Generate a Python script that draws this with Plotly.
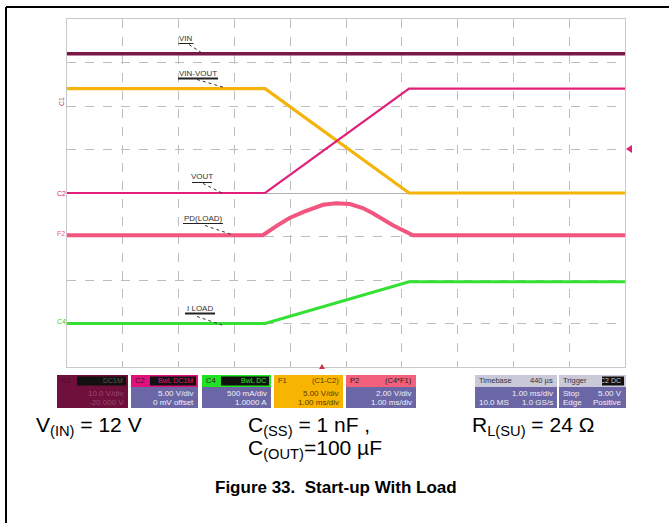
import plotly.graph_objects as go

# ---------------- data (read from the scope capture) ----------------
time_ms = [-5.0, -1.45, 1.13, 5.0]
vin_v = [12.0, 12.0, 12.0, 12.0]
vout_v = [0.0, 0.0, 12.0, 12.0]
vin_minus_vout_v = [12.0, 12.0, 0.0, 0.0]
iload_a = [0.0, 0.0, 0.48, 0.48]

pd_time_ms = [-5.0, -1.49, -1.25, -1.02, -0.75, -0.52, -0.41, -0.18, 0.07, 0.3, 0.48, 0.84, 1.15, 1.2, 5.0]
pd_w = [0.0, 0.0, 0.42, 0.78, 1.08, 1.29, 1.4, 1.47, 1.43, 1.25, 1.01, 0.46, 0.09, 0.0, 0.0]

# channel settings: (units per division, reference position in divisions)
ch_c1 = (10.0, 2.0)     # VIN
ch_f1 = (5.0, 0.0)      # VIN-VOUT
ch_c2 = (5.0, 0.0)      # VOUT
ch_p2 = (2.0, -0.97)    # PD(LOAD)
ch_c4 = (0.5, -3.0)     # I LOAD

# ---------------- geometry (page pixels) ----------------
W, H = 669, 523
PL, PR, PT, PB = 67, 625, 19, 367


def X(px):
    return (px - PL) / (PR - PL)


def Y(py):
    return (PB - py) / (PB - PT)


def to_div(vals, ch):
    s, ref = ch
    return [v / s + ref for v in vals]


fig = go.Figure()

traces = [
    (time_ms, to_div(vin_v, ch_c1), "#7a1848", 3.5, "VIN"),
    (time_ms, to_div(vin_minus_vout_v, ch_f1), "#f4b40c", 3.2, "VIN-VOUT"),
    (time_ms, to_div(vout_v, ch_c2), "#e0207a", 2.2, "VOUT"),
    (pd_time_ms, to_div(pd_w, ch_p2), "#f2557f", 4, "PD(LOAD)"),
    (time_ms, to_div(iload_a, ch_c4), "#33e033", 3, "I LOAD"),
]
for xs, ys, col, w, name in traces:
    fig.add_trace(go.Scatter(x=xs, y=ys, mode="lines", name=name,
                             line=dict(color=col, width=w), hoverinfo="skip"))

shapes = []
ann = []

# outer frame (only top/left edges visible)
shapes.append(dict(type="line", xref="paper", yref="paper", x0=X(6), x1=X(700), y0=Y(7), y1=Y(7),
                   line=dict(color="black", width=2)))
shapes.append(dict(type="line", xref="paper", yref="paper", x0=X(6), x1=X(6), y0=Y(7), y1=Y(540),
                   line=dict(color="black", width=2)))

# trace labels with leaders
labels = [
    ("VIN", 186, 38, (189, 44), (202, 53), 1),
    ("VIN-VOUT", 198, 73, (197, 79), (226, 88), 2),
    ("VOUT", 202, 177, (203, 183), (222, 193), 1),
    ("PD(LOAD)", 203, 218, (205, 225), (233, 235), 1),
    ("I LOAD", 200, 308, (197, 316), (222, 325), 2),
]
for t, cx, cy, p0, p1, uw in labels:
    ann.append(dict(x=X(cx), y=Y(cy), xref="paper", yref="paper", text=t, showarrow=False,
                    font=dict(size=8, color="#333333", family="Liberation Sans"),
                    xanchor="center", yanchor="middle"))
    half = len(t) * 2.5
    shapes.append(dict(type="line", xref="paper", yref="paper", x0=X(cx - half), x1=X(cx + half),
                       y0=Y(cy + 5.5), y1=Y(cy + 5.5), line=dict(color="#222222", width=uw)))
    shapes.append(dict(type="line", xref="paper", yref="paper", x0=X(p0[0]), x1=X(p1[0]),
                       y0=Y(p0[1] + 0.5), y1=Y(p1[1]), line=dict(color="#333333", width=1, dash="dot")))

# channel markers on the left
for t, py, col, ang in [("C1", 102, "#a05070", -90), ("C2", 193, "#e0207a", 0),
                        ("F2", 233, "#f2557f", 0), ("C4", 321, "#33cc33", 0)]:
    ann.append(dict(x=X(61), y=Y(py), xref="paper", yref="paper", text=t, showarrow=False,
                    font=dict(size=7, color=col, family="Liberation Sans"),
                    textangle=ang, xanchor="center", yanchor="middle"))

# right-side trigger level marker and bottom trigger position marker
shapes.append(dict(type="path", xref="paper", yref="paper",
                   path=f"M {X(626)} {Y(149)} L {X(632)} {Y(145)} L {X(632)} {Y(153)} Z",
                   fillcolor="#e0207a", line=dict(width=0)))
shapes.append(dict(type="path", xref="paper", yref="paper",
                   path=f"M {X(319)} {Y(369)} L {X(325)} {Y(369)} L {X(322)} {Y(364)} Z",
                   fillcolor="#d03050", line=dict(width=0)))

# info boxes
BT, BH, BB = 375, 387, 408
PURPLE = "#6b67a6"


def rect(x0, x1, y0, y1, col):
    shapes.append(dict(type="rect", xref="paper", yref="paper", x0=X(x0), x1=X(x1), y0=Y(y1), y1=Y(y0),
                       fillcolor=col, line=dict(width=0), layer="above"))


def txt(x, y, s, col, anchor="left", size=8):
    ann.append(dict(x=X(x), y=Y(y), xref="paper", yref="paper", text=s, showarrow=False,
                    font=dict(size=size, color=col, family="Liberation Sans"),
                    xanchor=anchor, yanchor="middle"))


boxes = [
    (57, 128, "#6e0f3c", "#6e0f3c", "C1", "", "DC1M", "10.0 V/div", "-20.000 V", "#9a4a70"),
    (131, 198, "#e0127a", PURPLE, "C2", "", "BwL DC1M", "5.00 V/div", "0 mV offset", "#f0f0f8"),
    (202, 271, "#22e022", PURPLE, "C4", "", "BwL DC", "500 mA/div", "1.0000 A", "#f0f0f8"),
    (274, 343, "#f7b400", "#f7b400", "F1", "(C1-C2)", "", "5.00 V/div", "1.00 ms/div", "#5a3a00"),
    (346, 416, "#f2607c", PURPLE, "P2", "(C4*F1)", "", "2.00 V/div", "1.00 ms/div", "#f0f0f8"),
]
for x0, x1, hc, bc, hl, hr, tag, r1, r2, tc in boxes:
    rect(x0, x1, BT, BB, bc)
    rect(x0, x1, BT, BH, hc)
    hcol = "#5a3a00" if hc == "#f7b400" else ("#222222" if hc != "#6e0f3c" else "#4a0a28")
    txt(x0 + 2, (BT + BH) / 2, hl, hcol, size=7.5)
    if hr:
        txt(x1 - 2, (BT + BH) / 2, hr, hcol, anchor="right", size=7.5)
    if tag:
        tag_x0 = x0 + (20 if x0 == 57 else 19)
        rect(tag_x0, x1 - 2, BT + 1.5, BH - 1.5, "#111111")
        txt(x1 - 3, (BT + BH) / 2, tag, hc if hc != "#6e0f3c" else "#555555", anchor="right", size=7)
    txt(x1 - 2, 393, r1, tc, anchor="right")
    txt(x1 - 2, 402.5, r2, tc, anchor="right")

# Timebase box
rect(475, 557, BT, BB, PURPLE)
rect(475, 557, BT, BH, "#c9c9d8")
txt(477, (BT + BH) / 2, "Timebase", "#333344", size=7.5)
txt(555, (BT + BH) / 2, "440 µs", "#333344", anchor="right", size=7.5)
txt(555, 393, "1.00 ms/div", "#f0f0f8", anchor="right")
txt(477, 402.5, "10.0 MS", "#f0f0f8")
txt(555, 402.5, "1.0 GS/s", "#f0f0f8", anchor="right")

# Trigger box
rect(559, 626, BT, BB, PURPLE)
rect(559, 626, BT, BH, "#c9c9d8")
txt(561, (BT + BH) / 2, "Trigger", "#333344", size=7.5)
rect(602, 624, BT + 1.5, BH - 1.5, "#111111")
txt(623, (BT + BH) / 2, "C2 DC", "#c9c9d8", anchor="right", size=7)
txt(561, 393, "Stop", "#f0f0f8")
txt(624, 393, "5.00 V", "#f0f0f8", anchor="right")
txt(561, 402.5, "Edge", "#f0f0f8")
txt(624, 402.5, "Positive", "#f0f0f8", anchor="right")

# conditions text
CF = dict(size=21, color="black", family="Liberation Sans")
for s, x, y in [("V<sub>(IN)</sub> = 12 V", 34, 426),
                ("C<sub>(SS)</sub> = 1 nF ,", 246, 426),
                ("C<sub>(OUT)</sub>=100 µF", 246, 449),
                ("R<sub>L(SU)</sub> = 24 Ω", 470, 426)]:
    ann.append(dict(x=X(x), y=Y(y), xref="paper", yref="paper", text=s, showarrow=False,
                    font=CF, xanchor="left", yanchor="middle"))

ann.append(dict(x=X(336), y=Y(487), xref="paper", yref="paper",
                text="<b>Figure 33.&nbsp; Start-up With Load</b>", showarrow=False,
                font=dict(size=17, color="black", family="Liberation Sans"),
                xanchor="center", yanchor="middle"))

fig.update_layout(
    width=W, height=H, autosize=False,
    margin=dict(l=PL, r=W - PR, t=PT, b=H - PB, pad=0),
    paper_bgcolor="white", plot_bgcolor="white",
    showlegend=False,
    shapes=shapes, annotations=ann,
    xaxis=dict(range=[-5, 5], dtick=1, tick0=0, showticklabels=False, ticks="",
               showgrid=True, gridcolor="#bdbdbd", griddash="dash", gridwidth=1,
               zeroline=False, showline=True, mirror=True, linecolor="#c8c8c8", linewidth=1,
               fixedrange=True),
    yaxis=dict(range=[-4, 4], dtick=1, tick0=0, showticklabels=False, ticks="",
               showgrid=True, gridcolor="#bdbdbd", griddash="dash", gridwidth=1,
               zeroline=True, zerolinecolor="#b0b0b0", zerolinewidth=1,
               showline=True, mirror=True, linecolor="#c8c8c8", linewidth=1,
               fixedrange=True),
)

fig.write_html("out.html", config={"displayModeBar": False},
               post_script="document.body.style.margin='0';document.body.style.overflow='hidden';")
